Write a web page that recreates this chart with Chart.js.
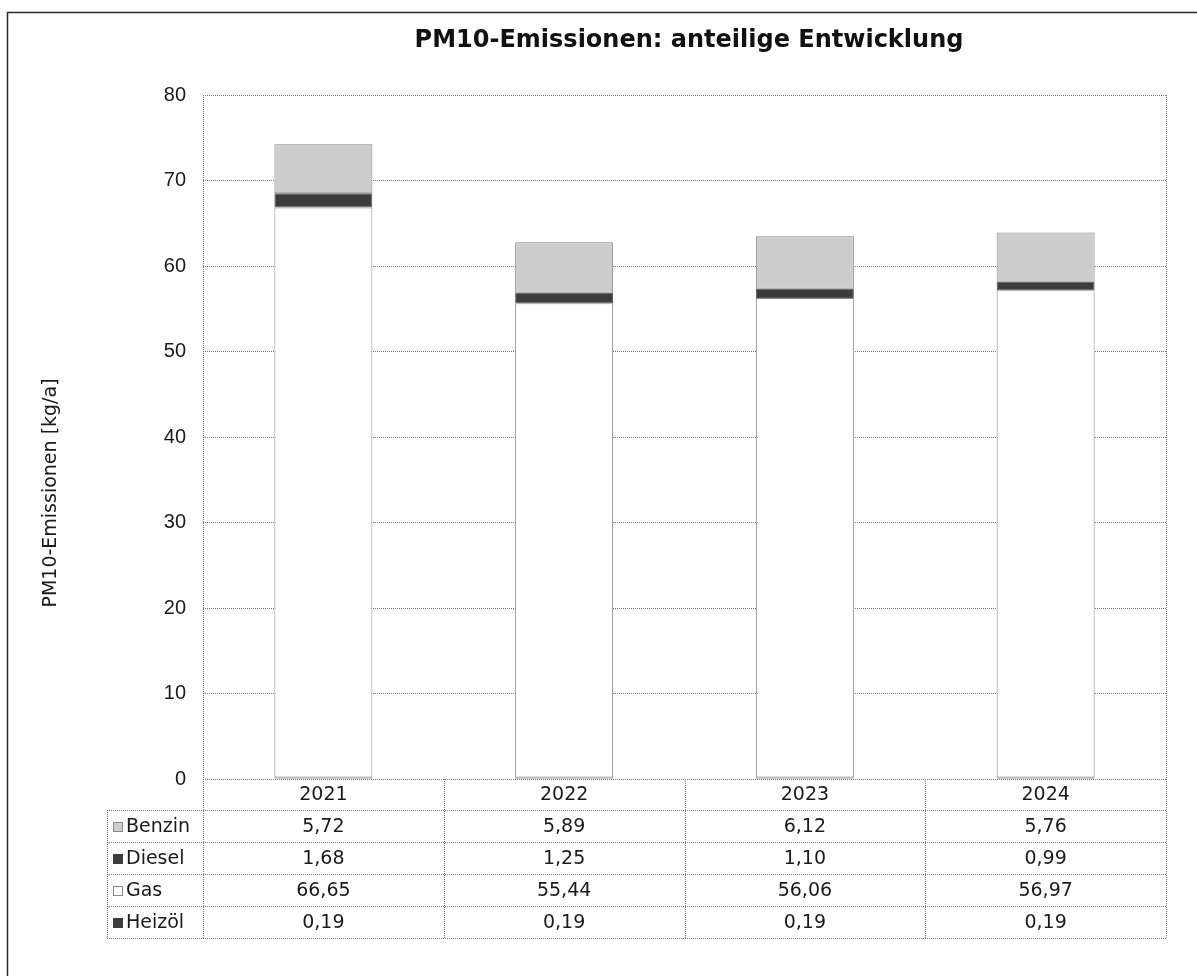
<!DOCTYPE html>
<html>
<head>
<meta charset="utf-8">
<script src="https://cdn.jsdelivr.net/npm/chart.js@4"></script>
<style>
  html, body { margin: 0; padding: 0; background: #ffffff; }
  #wrap { width: 1197px; height: 976px; position: relative; }
</style>
</head>
<body>
<div id="wrap"><canvas id="c" width="1197" height="976"></canvas></div>
<script>
// Jahre und Emissionsanteile (kg/a)
const years   = ['2021', '2022', '2023', '2024'];
const heizoel = [0.19, 0.19, 0.19, 0.19];
const gas     = [66.65, 55.44, 56.06, 56.97];
const diesel  = [1.68, 1.25, 1.10, 0.99];
const benzin  = [5.72, 5.89, 6.12, 5.76];
const yTicks  = [0, 10, 20, 30, 40, 50, 60, 70, 80];

const chartTitle = 'PM10-Emissionen: anteilige Entwicklung';
const yTitle = 'PM10-Emissionen [kg/a]';

const fmt = v => v.toFixed(2).replace('.', ',');

// Tabellenzeilen (oben nach unten) mit Legendenfarben
const tableRows = [
  { label: 'Benzin', values: benzin, fill: '#cdcdcd', stroke: '#8a8a8a' },
  { label: 'Diesel', values: diesel, fill: '#3c3c3c', stroke: '#3c3c3c' },
  { label: 'Gas',    values: gas,    fill: '#ffffff', stroke: '#8a8a8a' },
  { label: 'Heizöl', values: heizoel, fill: '#3c3c3c', stroke: '#3c3c3c' }
];

const dotted = (ctx, x1, y1, x2, y2) => {
  ctx.beginPath();
  ctx.moveTo(x1, y1);
  ctx.lineTo(x2, y2);
  ctx.stroke();
};

// Rahmen, Titel, Achsentitel und Datentabelle
const decorations = {
  id: 'decorations',
  afterDraw(chart) {
    const { ctx, chartArea: a, scales: { x } } = chart;
    ctx.save();

    // äußerer Rahmen
    ctx.strokeStyle = '#2a2a2a';
    ctx.lineWidth = 1.5;
    ctx.setLineDash([]);
    ctx.beginPath();
    ctx.moveTo(7.5, 980);
    ctx.lineTo(7.5, 12.5);
    ctx.lineTo(1200, 12.5);
    ctx.stroke();

    // Titel
    ctx.fillStyle = '#111111';
    ctx.font = 'bold 24px "DejaVu Sans"';
    ctx.textAlign = 'center';
    ctx.textBaseline = 'middle';
    ctx.fillText(chartTitle, 689, 41);

    // Y-Achsentitel
    ctx.save();
    ctx.translate(51, 493);
    ctx.rotate(-Math.PI / 2);
    ctx.font = '19px "DejaVu Sans"';
    ctx.fillStyle = '#1a1a1a';
    ctx.fillText(yTitle, 0, 0);
    ctx.restore();

    // Tabelle
    const rowEdges = [a.bottom, a.bottom + 31, a.bottom + 63, a.bottom + 95, a.bottom + 127, a.bottom + 159];
    const labelLeft = 107;
    const colEdges = [a.left];
    for (let i = 0; i < years.length; i++) {
      const c = x.getPixelForValue(i);
      const half = (x.getPixelForValue(1) - x.getPixelForValue(0)) / 2;
      colEdges.push(c + half);
    }

    ctx.strokeStyle = '#7a7a7a';
    ctx.lineWidth = 1;
    ctx.setLineDash([1, 1]);

    // Plotrahmen links/rechts
    dotted(ctx, a.left + 0.5, a.top, a.left + 0.5, rowEdges[5]);
    dotted(ctx, a.right + 0.5, a.top, a.right + 0.5, rowEdges[5]);

    // horizontale Linien
    dotted(ctx, a.left, rowEdges[0] + 0.5, a.right, rowEdges[0] + 0.5);
    for (let r = 1; r < rowEdges.length; r++) {
      dotted(ctx, labelLeft, rowEdges[r] + 0.5, a.right, rowEdges[r] + 0.5);
    }
    // vertikale Linien
    dotted(ctx, labelLeft + 0.5, rowEdges[1], labelLeft + 0.5, rowEdges[5]);
    colEdges.forEach(cx => dotted(ctx, Math.round(cx) + 0.5, rowEdges[0], Math.round(cx) + 0.5, rowEdges[5]));

    ctx.setLineDash([]);
    ctx.font = '19px "DejaVu Sans"';
    ctx.fillStyle = '#1a1a1a';
    ctx.textAlign = 'center';
    ctx.textBaseline = 'middle';

    years.forEach((y, i) => {
      ctx.fillText(y, x.getPixelForValue(i), (rowEdges[0] + rowEdges[1]) / 2 + 1);
    });

    tableRows.forEach((row, r) => {
      const cy = (rowEdges[r + 1] + rowEdges[r + 2]) / 2 + 1;
      // Legendensymbol
      ctx.fillStyle = row.fill;
      ctx.fillRect(113, Math.round(cy - 5), 10, 10);
      ctx.strokeStyle = row.stroke;
      ctx.lineWidth = 1;
      ctx.strokeRect(113.5, Math.round(cy - 5) + 0.5, 9, 9);
      ctx.fillStyle = '#1a1a1a';
      ctx.textAlign = 'left';
      ctx.fillText(row.label, 126, cy);
      ctx.textAlign = 'center';
      row.values.forEach((v, i) => {
        ctx.fillText(fmt(v), x.getPixelForValue(i), cy);
      });
    });

    ctx.restore();
  }
};

const barStyle = (label, data, fill, stroke) => ({
  label, data,
  backgroundColor: fill,
  borderColor: stroke,
  borderWidth: 1,
  borderSkipped: false,
  categoryPercentage: 1,
  barPercentage: 0.407
});

new Chart(document.getElementById('c'), {
  type: 'bar',
  data: {
    labels: years,
    datasets: [
      barStyle('Heizöl', heizoel, '#3c3c3c', '#3c3c3c'),
      barStyle('Gas', gas, '#ffffff', '#8a8a8a'),
      barStyle('Diesel', diesel, '#3c3c3c', '#555555'),
      barStyle('Benzin', benzin, '#cdcdcd', '#8a8a8a')
    ]
  },
  options: {
    responsive: false,
    animation: false,
    layout: { padding: { top: 95, right: 31, bottom: 197, left: 0 } },
    plugins: {
      legend: { display: false },
      title: { display: false },
      tooltip: { enabled: false }
    },
    scales: {
      x: {
        stacked: true,
        display: false,
        grid: { display: false }
      },
      y: {
        stacked: true,
        min: 0,
        max: 80,
        afterFit(scale) { scale.width = 203; },
        afterBuildTicks(scale) { scale.ticks = yTicks.map(v => ({ value: v })); },
        grid: { color: '#7a7a7a', drawTicks: false, lineWidth: 1 },
        border: { display: false, dash: [1, 1] },
        ticks: {
          padding: 17,
          color: '#1a1a1a',
          font: { family: '"Liberation Sans"', size: 20 }
        }
      }
    }
  },
  plugins: [decorations]
});
</script>
</body>
</html>
